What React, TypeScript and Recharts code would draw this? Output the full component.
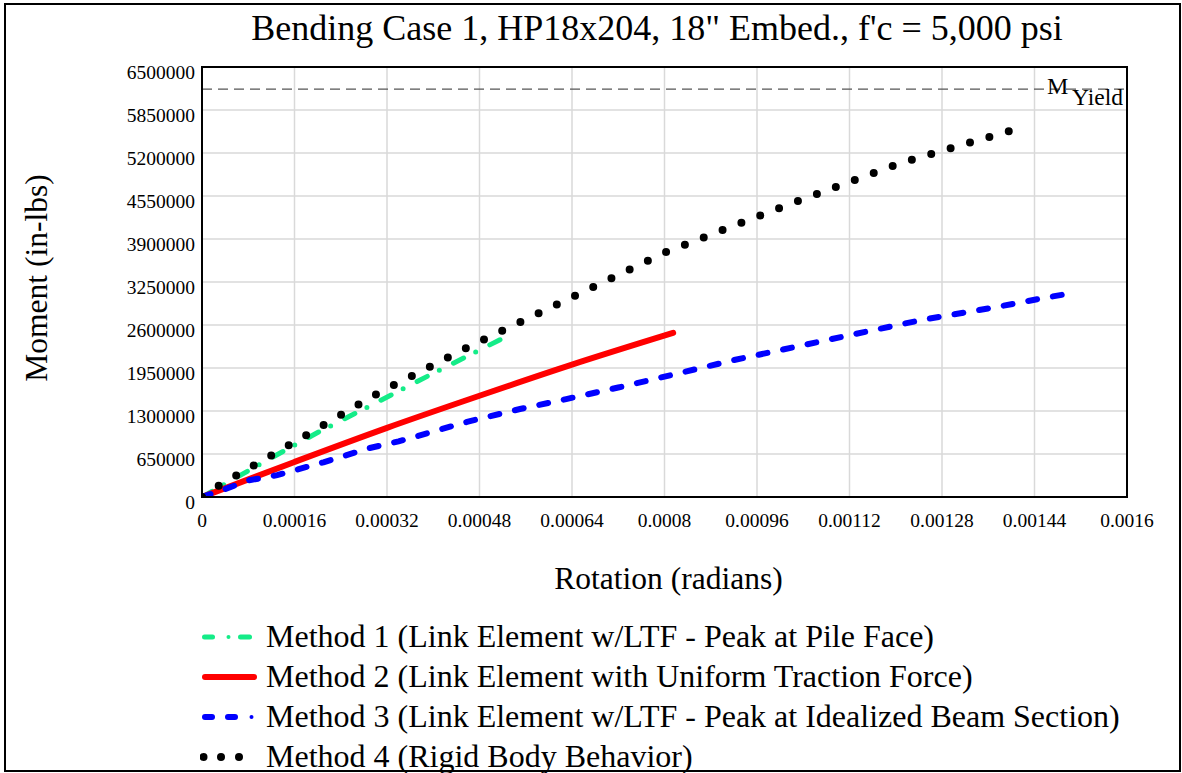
import React from "react";
import {
  LineChart,
  Line,
  XAxis,
  YAxis,
  CartesianGrid,
  ReferenceLine,
  ReferenceArea,
  Legend,
  Label,
} from "recharts";

const FONT = '"Liberation Serif", "Times New Roman", serif';

// ---- axis ticks ----
const xTicks = [0, 0.00016, 0.00032, 0.00048, 0.00064, 0.0008, 0.00096, 0.00112, 0.00128, 0.00144, 0.0016];
const yTicks = [0, 650000, 1300000, 1950000, 2600000, 3250000, 3900000, 4550000, 5200000, 5850000, 6500000];

// ---- series values (rotation in radians, moment in in-lbs) ----
const m1Rotation = [0, 0.0001, 0.0002, 0.0003, 0.0004, 0.000532];
const m1Moment = [0, 495000, 975000, 1420000, 1870000, 2450000];

const m2Rotation = [0, 0.00016, 0.00032, 0.00048, 0.00064, 0.000815];
const m2Moment = [0, 530000, 1045000, 1530000, 2000000, 2480000];

const m3Rotation = [0, 0.00004, 0.00008, 0.00013, 0.00021, 0.00029, 0.00034, 0.00038, 0.00046, 0.00055, 0.00063, 0.00072, 0.00081, 0.00092, 0.001, 0.00113, 0.00125, 0.00137, 0.00146, 0.00151];
const m3Moment = [0, 120000, 250000, 330000, 525000, 740000, 840000, 940000, 1140000, 1330000, 1480000, 1655000, 1840000, 2070000, 2220000, 2465000, 2685000, 2865000, 3015000, 3090000];

const m4Rotation = [0, 0.0000255, 0.000151, 0.000306, 0.000462, 0.000618, 0.000804, 0.001023, 0.00121, 0.001397];
const m4Moment = [0, 155000, 786000, 1577000, 2272000, 2928000, 3708000, 4449000, 5053000, 5533000];

const M_YIELD = 6167000;

const TITLE = "Bending Case 1, HP18x204, 18\" Embed., f'c = 5,000 psi";
const X_LABEL = "Rotation (radians)";
const Y_LABEL = "Moment (in-lbs)";

const seriesNames = [
  "Method 1 (Link Element w/LTF - Peak at Pile Face)",
  "Method 2 (Link Element with Uniform Traction Force)",
  "Method 3 (Link Element w/LTF - Peak at Idealized Beam Section)",
  "Method 4 (Rigid Body Behavior)",
];

const X_MAX = 0.0016;
const Y_MAX = 6500000;
const CHART_W = 1182;
const CHART_H = 773;
const MARGIN = { top: 67, right: 55, bottom: 176, left: 0 };
const Y_AXIS_W = 202;
const X_AXIS_H = 100;

const zip = (xs: number[], ys: number[]) => xs.map((x, i) => ({ x, y: ys[i] }));
const m1Data = zip(m1Rotation, m1Moment);
const m2Data = zip(m2Rotation, m2Moment);
const m3Data = zip(m3Rotation, m3Moment);
const m4Data = zip(m4Rotation, m4Moment);

// dotted pattern period chosen so a dot falls at both ends of the Method 4 trace
const plotW = CHART_W - MARGIN.left - MARGIN.right - Y_AXIS_W;
const plotH = CHART_H - MARGIN.top - MARGIN.bottom - X_AXIS_H;
const pathLen = (xs: number[], ys: number[]) => {
  let L = 0;
  for (let i = 1; i < xs.length; i++) {
    const dx = ((xs[i] - xs[i - 1]) / X_MAX) * plotW;
    const dy = ((ys[i] - ys[i - 1]) / Y_MAX) * plotH;
    L += Math.sqrt(dx * dx + dy * dy);
  }
  return L;
};
const m4Len = pathLen(m4Rotation, m4Moment);
const m4Period = Math.floor((m4Len / Math.round(m4Len / 20.4)) * 1000 - 20) / 1000;

const GREEN = "#14ec88";
const RED = "#ff0000";
const BLUE = "#0000ff";
const BLACK = "#000000";

const XTick = (props: any) => {
  const { x, y, payload } = props;
  return (
    <text x={x} y={y + 30} textAnchor="middle" fontFamily={FONT} fontSize={19.5} fill="#000">
      {String(payload.value)}
    </text>
  );
};

const YTick = (props: any) => {
  const { x, y, payload } = props;
  return (
    <text x={x} y={y + 11.5} textAnchor="end" fontFamily={FONT} fontSize={19.5} fill="#000">
      {String(payload.value)}
    </text>
  );
};

const XLabelContent = (props: any) => {
  const vb = props.viewBox || { x: 202, y: 497, width: 925, height: 100 };
  const cx = vb.x + vb.width / 2 + 4;
  return (
    <text x={cx} y={vb.y + 92} textAnchor="middle" fontFamily={FONT} fontSize={31.5} fill="#000">
      {X_LABEL}
    </text>
  );
};

const YLabelContent = (props: any) => {
  const vb = props.viewBox || { x: 0, y: 67, width: 202, height: 430 };
  const cx = vb.x + 47;
  const cy = vb.y + vb.height / 2 - 4;
  return (
    <text
      x={cx}
      y={cy}
      transform={`rotate(-90, ${cx}, ${cy})`}
      textAnchor="middle"
      fontFamily={FONT}
      fontSize={31.5}
      fill="#000"
    >
      {Y_LABEL}
    </text>
  );
};

const YieldLabel = (props: any) => {
  const vb = props.viewBox || { x: 202, y: 89, width: 925 };
  const right = vb.x + vb.width;
  return (
    <g>
      <text x={right - 80} y={vb.y + 5} fontFamily={FONT} fontSize={24} fill="#000">
        M
      </text>
      <text x={right - 55} y={vb.y + 16} fontFamily={FONT} fontSize={23.5} fill="#000">
        Yield
      </text>
    </g>
  );
};

const LegendSample = ({ index }: { index: number }) => {
  const cy = 21;
  let content: React.ReactNode = null;
  if (index === 0) {
    content = (
      <g stroke={GREEN} strokeWidth={5} strokeLinecap="round">
        <line x1={4.5} y1={cy} x2={12.5} y2={cy} />
        <line x1={28.5} y1={cy} x2={28.5} y2={cy} strokeWidth={4} />
        <line x1={40.5} y1={cy} x2={49.5} y2={cy} />
      </g>
    );
  } else if (index === 1) {
    content = <line x1={5} y1={cy} x2={54} y2={cy} stroke={RED} strokeWidth={6} strokeLinecap="round" />;
  } else if (index === 2) {
    content = (
      <g stroke={BLUE} strokeWidth={6} strokeLinecap="round">
        <line x1={5} y1={cy} x2={12} y2={cy} />
        <line x1={28} y1={cy} x2={35} y2={cy} />
        <line x1={51.5} y1={cy} x2={51.5} y2={cy} strokeWidth={4} />
      </g>
    );
  } else {
    content = (
      <g fill={BLACK}>
        <circle cx={3.5} cy={cy} r={4} />
        <circle cx={21} cy={cy} r={4} />
        <circle cx={39} cy={cy} r={4} />
      </g>
    );
  }
  return (
    <svg width={57} height={40} style={{ display: "block", flex: "none" }}>
      {content}
    </svg>
  );
};

const LegendContent = () => (
  <div style={{ fontFamily: FONT, fontSize: 32, color: "#000" }}>
    {seriesNames.map((name, i) => (
      <div key={name} style={{ display: "flex", alignItems: "flex-start", height: 40, whiteSpace: "nowrap" }}>
        <LegendSample index={i} />
        <span style={{ marginLeft: 9, lineHeight: "40px" }}>{name}</span>
      </div>
    ))}
  </div>
);

export default function App() {
  return (
    <div
      style={{
        position: "absolute",
        left: 0,
        top: 0,
        width: CHART_W,
        height: CHART_H,
        background: "#fff",
        fontFamily: FONT,
        overflow: "hidden",
      }}
    >
      <div
        style={{
          position: "absolute",
          left: 0,
          top: 10,
          width: 1314,
          textAlign: "center",
          fontSize: 36,
          lineHeight: "36px",
          whiteSpace: "nowrap",
          color: "#000",
        }}
      >
        {TITLE}
      </div>
      <LineChart width={CHART_W} height={CHART_H} margin={MARGIN}>
        <CartesianGrid stroke="#d9d9d9" strokeWidth={1.5} />
        <XAxis
          type="number"
          dataKey="x"
          domain={[0, X_MAX]}
          ticks={xTicks}
          height={X_AXIS_H}
          tickSize={0}
          tickMargin={0}
          tick={<XTick />}
          axisLine={{ stroke: "#000", strokeWidth: 2 }}
          allowDataOverflow
        >
          <Label content={<XLabelContent />} />
        </XAxis>
        <YAxis
          type="number"
          domain={[0, Y_MAX]}
          ticks={yTicks}
          width={Y_AXIS_W}
          tickSize={0}
          tickMargin={7}
          tick={<YTick />}
          axisLine={{ stroke: "#000", strokeWidth: 2 }}
          interval={0}
          allowDataOverflow
        >
          <Label content={<YLabelContent />} />
        </YAxis>
        <ReferenceArea x1={0} x2={X_MAX} y1={0} y2={Y_MAX} fill="none" stroke="#000" strokeWidth={2} />
        <ReferenceLine
          y={M_YIELD}
          stroke="#555"
          strokeWidth={1.2}
          strokeDasharray="10 6"
          label={(p: any) => <YieldLabel {...p} />}
        />
        <Line
          data={m1Data}
          dataKey="y"
          name={seriesNames[0]}
          stroke={GREEN}
          strokeWidth={5}
          strokeLinecap="round"
          strokeDasharray="11.4 13.5 0 15.8"
          dot={false}
          activeDot={false}
          type="linear"
          isAnimationActive={false}
        />
        <Line
          data={m2Data}
          dataKey="y"
          name={seriesNames[1]}
          stroke={RED}
          strokeWidth={6}
          strokeLinecap="round"
          dot={false}
          activeDot={false}
          type="monotone"
          isAnimationActive={false}
        />
        <Line
          data={m3Data}
          dataKey="y"
          name={seriesNames[2]}
          stroke={BLUE}
          strokeWidth={6}
          strokeLinecap="round"
          strokeDasharray="9 16"
          dot={false}
          activeDot={false}
          type="linear"
          isAnimationActive={false}
        />
        <Line
          data={m4Data}
          dataKey="y"
          name={seriesNames[3]}
          stroke={BLACK}
          strokeWidth={8}
          strokeLinecap="round"
          strokeDasharray={`0 ${m4Period}`}
          dot={false}
          activeDot={false}
          type="linear"
          isAnimationActive={false}
        />
        <Legend
          layout="vertical"
          align="center"
          verticalAlign="middle"
          wrapperStyle={{ left: 200, top: 616, width: 980 }}
          content={<LegendContent />}
        />
      </LineChart>
      <div
        style={{
          position: "absolute",
          left: 4,
          top: 3,
          width: 1177,
          height: 769,
          boxSizing: "border-box",
          border: "2px solid #000",
          pointerEvents: "none",
        }}
      />
    </div>
  );
}
